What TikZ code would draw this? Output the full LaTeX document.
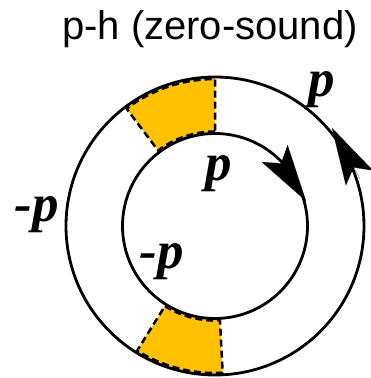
\documentclass[tikz,border=0pt]{standalone}
\usepackage{fontspec}
\setmainfont{Liberation Serif}
\newfontfamily\titlefont{Liberation Sans}
\usetikzlibrary{arrows.meta}
\definecolor{secfill}{RGB}{255,193,0}
\tikzset{
  ring/.style={line width=2.8pt},
  sector/.style={fill=secfill},
  sectoredge/.style={line width=2.5pt, dash pattern=on 7pt off 4pt},
  lbl/.style={font=\fontsize{53}{53}\selectfont\bfseries\itshape, inner sep=0pt},
  bigarrow/.style={line width=0.1pt, -{Stealth[length=57pt,width=31pt,inset=12pt]}},
}
\begin{document}
\begin{tikzpicture}[x=1pt,y=1pt]
\useasboundingbox (0,0) rectangle (370,378);
\coordinate (C) at (215,152);
% sectors
\fill[sector] ([shift={(90:92.5)}]C) arc (90:127:92.5) -- ([shift={(127:149)}]C) arc (127:90:149) -- cycle;
\fill[sector] ([shift={(238:92.5)}]C) arc (238:273:92.5) -- ([shift={(273:149)}]C) arc (273:238:149) -- cycle;
\draw[sectoredge] ([shift={(90:94.5)}]C) arc (90:127:94.5) -- ([shift={(127:147)}]C) arc (127:90:147) -- cycle;
\draw[sectoredge] ([shift={(238:94.5)}]C) arc (238:273:94.5) -- ([shift={(273:147)}]C) arc (273:238:147) -- cycle;
% circles
\node[ring, draw, circle, minimum size=298pt, inner sep=0pt] (outer) at (C) {};
\node[ring, draw, circle, minimum size=185pt, inner sep=0pt] (inner) at (C) {};
% arrows
\coordinate (ia) at (275,224);
\coordinate (ib) at (306,177);
\coordinate (oa) at (360,199);
\coordinate (ob) at (332,250);
\draw[bigarrow] (ia) -- (ib);
\draw[bigarrow] (oa) -- (ob);
% labels
\node[font=\titlefont\fontsize{40}{40}\selectfont, inner sep=0pt] (title) at (210,348.5) {p-h (zero-sound)};
\node[lbl] (p1) at (322,288) {p};
\node[lbl] (p2) at (219,204) {p};
\node[lbl] (m1) at (37,163) {-p};
\node[lbl] (m2) at (162,116) {-p};
\end{tikzpicture}
\end{document}
